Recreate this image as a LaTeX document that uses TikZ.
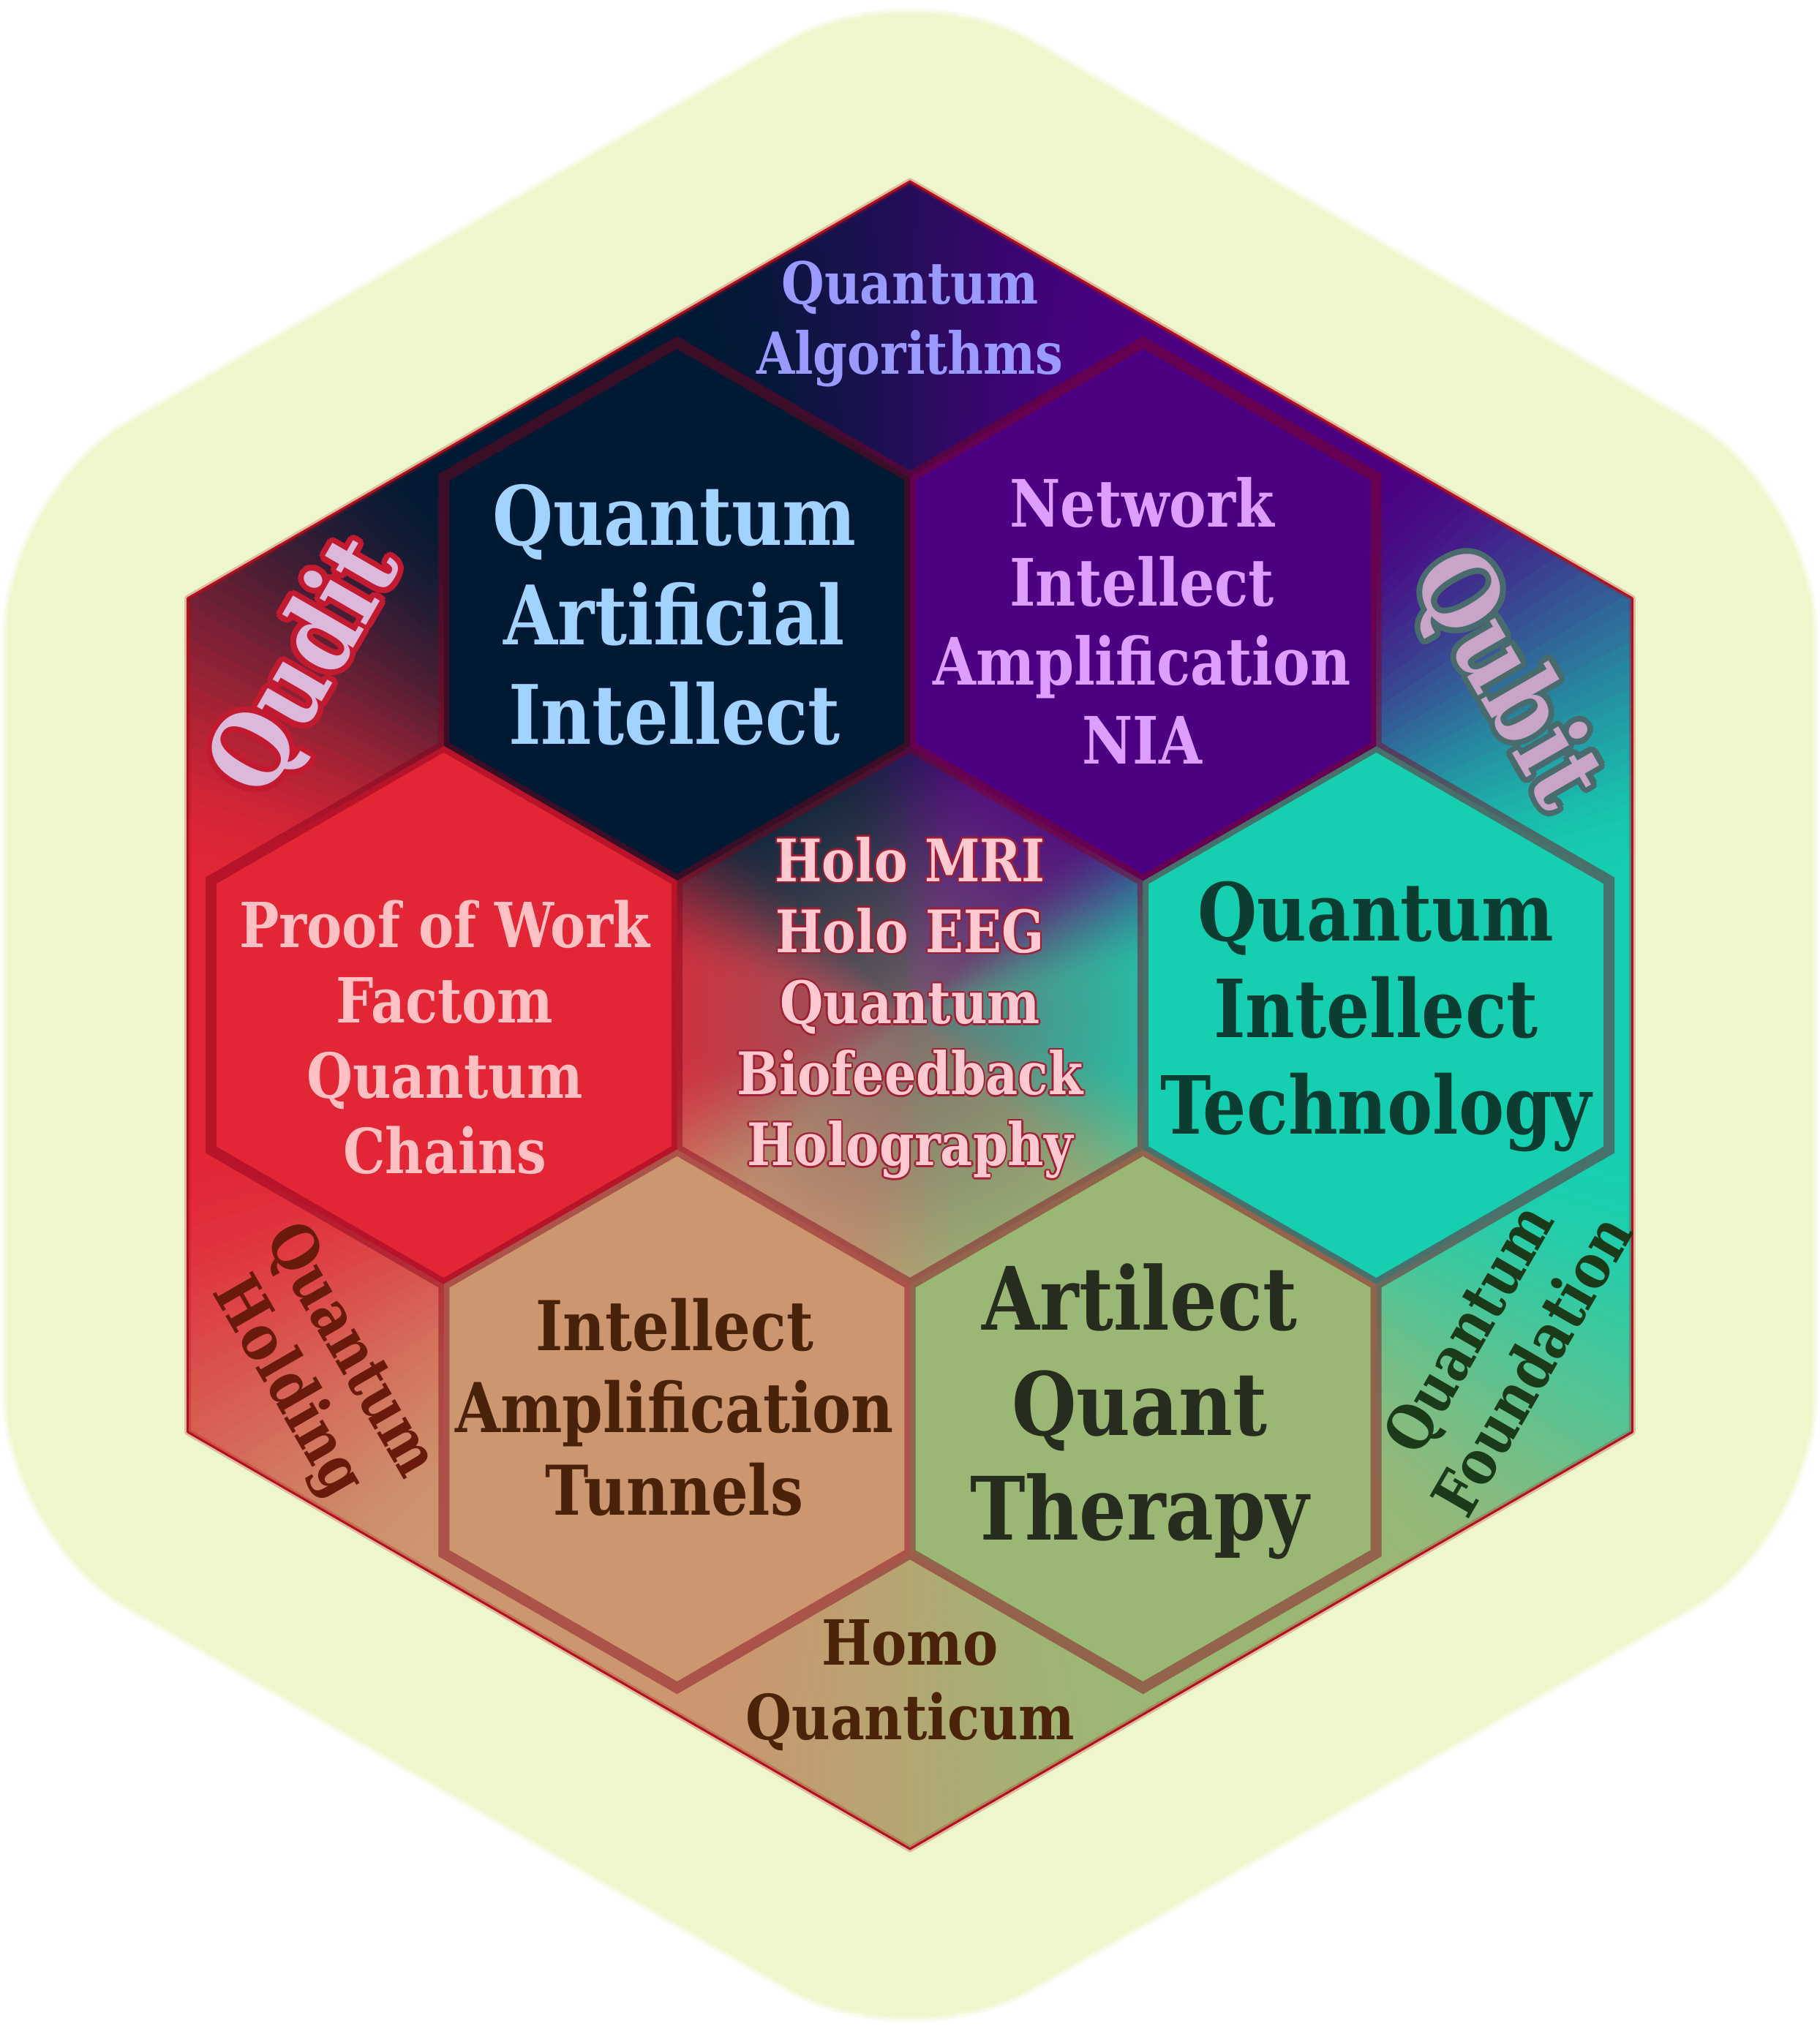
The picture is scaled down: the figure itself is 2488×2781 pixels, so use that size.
\documentclass[tikz,border=0pt]{standalone}
\usepackage{fontspec}
\setmainfont{DejaVu Serif}[FakeStretch=0.85]
\usetikzlibrary{calc,fadings}
\definecolor{bgc}{HTML}{EEF6CC}
\definecolor{cQAI}{HTML}{001A33}
\definecolor{cNIA}{HTML}{4B0082}
\definecolor{cPOW}{HTML}{E32636}
\definecolor{cQIT}{HTML}{15CFB0}
\definecolor{cIAT}{HTML}{CC9670}
\definecolor{cAQT}{HTML}{9BB775}
\definecolor{hexline}{HTML}{85001A}
\definecolor{rimc}{HTML}{B3101E}
\definecolor{midc}{HTML}{7A666A}
\definecolor{tQA}{HTML}{9999FF}
\definecolor{tQAI}{HTML}{A2D2FF}
\definecolor{tNIA}{HTML}{DD9EFF}
\definecolor{tPOW}{HTML}{FFBFC3}
\definecolor{tCEN}{HTML}{FFC9D2}
\definecolor{oCEN}{HTML}{A01E32}
\definecolor{tQIT}{HTML}{0B3D33}
\definecolor{tIAT}{HTML}{4A2209}
\definecolor{tAQT}{HTML}{262D1E}
\definecolor{tHQ}{HTML}{4A2309}
\definecolor{tQD}{HTML}{DCB9DA}
\definecolor{oQD}{HTML}{C21A30}
\definecolor{tQB}{HTML}{C8A5C6}
\definecolor{oQB}{HTML}{4A6B6E}
\definecolor{tQH}{HTML}{6A1A0A}
\definecolor{tQF}{HTML}{1A3A1A}
\colorlet{stop0}{cQIT}
\colorlet{stop1}{cNIA}
\colorlet{stop2}{cQAI}
\colorlet{stop3}{cPOW}
\colorlet{stop4}{cIAT}
\colorlet{stop5}{cAQT}
\colorlet{stop6}{cQIT}
\tikzfading[name=radfade, inner color=transparent!10, outer color=transparent!100]
\newcommand\fsz[2]{\fontsize{#1}{#2}\selectfont\bfseries}
\begin{document}
\begin{tikzpicture}[x=0.01cm,y=0.01cm,
  lbl/.style={align=center, inner sep=0pt}]
\useasboundingbox (0,0) rectangle (2488,2781);
\coordinate (C) at (1244,1393);
% outer rounded hexagon background
\foreach \k in {0,...,5}{
  \coordinate (O\k) at ($(C)+(90-60*\k:1425)$);
  \coordinate (B\k) at ($(C)+(90-60*\k:1140)$);
}
\draw[bgc, opacity=0.35, line width=0.14cm, rounded corners=1.9cm]
  (O0)--(O1)--(O2)--(O3)--(O4)--(O5)--cycle;
\draw[bgc, opacity=0.6, line width=0.06cm, rounded corners=1.9cm]
  (O0)--(O1)--(O2)--(O3)--(O4)--(O5)--cycle;
\fill[bgc, rounded corners=1.9cm]
  (O0)--(O1)--(O2)--(O3)--(O4)--(O5)--cycle;
% conic colour field inside the big hexagon
\begin{scope}
\clip (B0)--(B1)--(B2)--(B3)--(B4)--(B5)--cycle;
\foreach \a in {0,...,359}{
  \pgfmathtruncatemacro\k{floor(\a/60)}
  \pgfmathtruncatemacro\kn{\k+1}
  \pgfmathsetmacro\u{min(1,max(0,(\a-60*\k-10)/40))}
  \pgfmathtruncatemacro\pc{round(100*(3*\u*\u-2*\u*\u*\u))}
  \edef\tmpc{stop\kn!\pc!stop\k}
  \colorlet{wc}{\tmpc}
  \fill[wc] (C) -- ($(C)+(\a-0.6:1500)$) -- ($(C)+(\a+1.6:1500)$) -- cycle;
}
\fill[midc, path fading=radfade] (C) circle (400);
\end{scope}
% hexagon centres and corners
\foreach \n/\ang in {QIT/0,NIA/60,QAI/120,POW/180,IAT/240,AQT/300}{
  \coordinate (\n) at ($(C)+(\ang:637)$);
}
\coordinate (CEN) at (C);
\foreach \n in {QIT,NIA,QAI,POW,IAT,AQT,CEN}{
  \foreach \k in {0,...,5}{
    \coordinate (\n-\k) at ($(\n)+(90-60*\k:368)$);
  }
}
\foreach \n in {QIT,NIA,QAI,POW,IAT,AQT}{
  \fill[c\n] (\n-0)--(\n-1)--(\n-2)--(\n-3)--(\n-4)--(\n-5)--cycle;
}
\draw[hexline, opacity=0.45, line width=0.15cm]
  (CEN-0)--(CEN-1)--(CEN-2)--(CEN-3)--(CEN-4)--(CEN-5)--cycle
  (QIT-0)--(QIT-1)--(QIT-2)--(QIT-3)--(QIT-4)--(QIT-5)--cycle
  (NIA-0)--(NIA-1)--(NIA-2)--(NIA-3)--(NIA-4)--(NIA-5)--cycle
  (QAI-0)--(QAI-1)--(QAI-2)--(QAI-3)--(QAI-4)--(QAI-5)--cycle
  (POW-0)--(POW-1)--(POW-2)--(POW-3)--(POW-4)--(POW-5)--cycle
  (IAT-0)--(IAT-1)--(IAT-2)--(IAT-3)--(IAT-4)--(IAT-5)--cycle
  (AQT-0)--(AQT-1)--(AQT-2)--(AQT-3)--(AQT-4)--(AQT-5)--cycle;
% rim of the big hexagon
\draw[rimc, opacity=0.25, line width=0.09cm, line join=round]
  (B0)--(B1)--(B2)--(B3)--(B4)--(B5)--cycle;
\draw[rimc, line width=0.03cm, line join=round]
  (B0)--(B1)--(B2)--(B3)--(B4)--(B5)--cycle;
% texts
\node[lbl, text=tQA, font=\fsz{22.5pt}{27.3pt}] (tqa) at ($(C)+(0,945)$) {Quantum\\Algorithms};
\node[lbl, text=tQAI, font=\fsz{31.9pt}{38.7pt}] (tqai) at ($(C)+(-322,547)$) {Quantum\\Artificial\\Intellect};
\node[lbl, text=tNIA, font=\fsz{25.4pt}{30.7pt}] (tnia) at ($(C)+(317,539)$) {Network\\Intellect\\Amplification\\NIA};
\node[lbl, text=tPOW, font=\fsz{24.2pt}{29.3pt}] (tpow) at ($(C)+(-636,-30)$) {Proof of Work\\Factom\\Quantum\\Chains};
\foreach \t [count=\i] in {0,45,...,315}{
  \node[lbl, text=oCEN, opacity=0.8, font=\fsz{22.8pt}{27.6pt}] (tcen-o\i) at ($(C)+(0,10)+(\t:2.5)$) {Holo MRI\\Holo EEG\\Quantum\\Biofeedback\\Holography};
}
\node[lbl, text=tCEN, font=\fsz{22.8pt}{27.6pt}] (tcen) at ($(C)+(0,10)$) {Holo MRI\\Holo EEG\\Quantum\\Biofeedback\\Holography};
\node[lbl, text=tQIT, font=\fsz{31.2pt}{37.6pt}] (tqit) at ($(C)+(637,-2)$) {Quantum\\Intellect\\Technology};
\node[lbl, text=tIAT, font=\fsz{26.7pt}{32.1pt}] (tiat) at ($(C)+(-322,-536)$) {Intellect\\Amplification\\Tunnels};
\node[lbl, text=tAQT, font=\fsz{34pt}{40.8pt}] (taqt) at ($(C)+(314,-542)$) {Artilect\\Quant\\Therapy};
\node[lbl, text=tHQ, font=\fsz{24.2pt}{28.9pt}] (thq) at ($(C)+(0,-916)$) {Homo\\Quanticum};
% outlined side words
\foreach \t [count=\i] in {0,22.5,...,337.5}{
  \node[lbl, text=oQD, rotate=60, font=\fsz{40pt}{48pt}] (tqd-o\i) at ($(C)+(-824,475)+(\t:8)$) {Qudit};
  \node[lbl, text=oQB, rotate=-60, font=\fsz{40pt}{48pt}] (tqb-o\i) at ($(C)+(813,457)+(\t:8)$) {Qubit};
}
\node[lbl, text=tQD, rotate=60, font=\fsz{40pt}{48pt}] (tqd) at ($(C)+(-824,475)$) {Qudit};
\node[lbl, text=tQB, rotate=-60, font=\fsz{40pt}{48pt}] (tqb) at ($(C)+(813,457)$) {Qubit};
\node[lbl, text=tQH, rotate=-60, font=\fsz{24.5pt}{28.2pt}] (tqh) at ($(C)+(-810,-485)$) {Quantum\\Holding};
\node[lbl, text=tQF, rotate=60, font=\fsz{24pt}{28.7pt}] (tqf) at ($(C)+(806,-453)$) {Quantum\\Foundation};
\end{tikzpicture}
\end{document}
